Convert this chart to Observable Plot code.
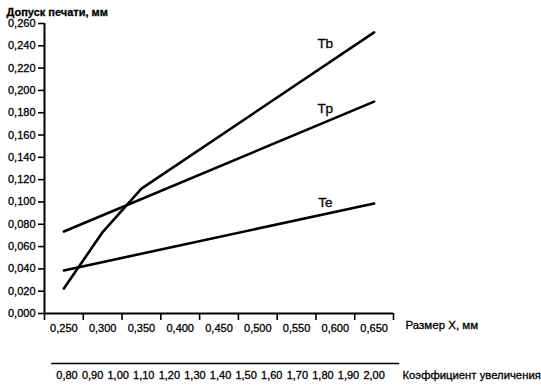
<!DOCTYPE html>
<html>
<head>
<meta charset="utf-8">
<script src="https://cdn.jsdelivr.net/npm/d3@7"></script>
<script src="https://cdn.jsdelivr.net/npm/@observablehq/plot@0.6"></script>
<style>
  html, body { margin: 0; padding: 0; background: #fff; }
  svg { display: block; }
  svg text { stroke: #000; stroke-width: 0.3px; }
</style>
</head>
<body>
<div id="chart"></div>
<script>
// X sizes (mm) — tick labels
const xLabels = [0.25, 0.30, 0.35, 0.40, 0.45, 0.50, 0.55, 0.60, 0.65];
// Y tick labels (mm)
const yTicks = [0, 0.02, 0.04, 0.06, 0.08, 0.10, 0.12, 0.14, 0.16, 0.18, 0.20, 0.22, 0.24, 0.26];
// Magnification factor tick labels
const kTicks = [0.80, 0.90, 1.00, 1.10, 1.20, 1.30, 1.40, 1.50, 1.60, 1.70, 1.80, 1.90, 2.00];

// Series
const tbX = [0.25, 0.30, 0.35, 0.65];
const tbY = [0.0224, 0.073, 0.112, 0.252];
const tpX = [0.25, 0.65];
const tpY = [0.0735, 0.190];
const teX = [0.25, 0.65];
const teY = [0.0386, 0.0986];

const seriesNames = ["Tb", "Tp", "Te"];
const labelX = [0.587, 0.587, 0.587];
const labelY = [0.2415, 0.184, 0.0998];

const rows = (xs, ys, name) => xs.map((x, i) => ({x, y: ys[i], name}));
const data = [...rows(tbX, tbY, "Tb"), ...rows(tpX, tpY, "Tp"), ...rows(teX, teY, "Te")];
const labels = seriesNames.map((n, i) => ({name: n, x: labelX[i], y: labelY[i]}));

// tick marks lie between the size labels (band edges)
const xEdges = xLabels.map(v => v - 0.025).concat([xLabels[xLabels.length - 1] + 0.025]);
// magnification factor placed along the size scale
const kToX = k => 0.33 * k - 0.01;

const fmt3 = v => d3.format(".3f")(v).replace(".", ",");
const fmt2 = v => d3.format(".2f")(v).replace(".", ",");

const font = "'Liberation Sans', Arial, sans-serif";

const plot = Plot.plot({
  width: 541,
  height: 386,
  marginLeft: 44,
  marginRight: 148,
  marginTop: 23,
  marginBottom: 73,
  style: {fontFamily: font, fontSize: "11px", color: "#000", background: "#fff"},
  x: {domain: [0.225, 0.675]},
  y: {domain: [0, 0.26]},
  marks: [
    Plot.axisY({ticks: yTicks, tickFormat: fmt3, tickSize: 6, tickPadding: 3, strokeWidth: 1.6, label: null, fontSize: 11}),
    Plot.axisX(xEdges, {tickSize: 7, tickFormat: () => "", strokeWidth: 1.6, label: null}),
    Plot.axisX({ticks: xLabels, tickFormat: fmt3, tickSize: 0, tickPadding: 11, label: null, fontSize: 11}),
    Plot.ruleX([0.225], {strokeWidth: 2}),
    Plot.ruleY([0], {strokeWidth: 2}),
    Plot.line(data, {x: "x", y: "y", z: "name", stroke: "#000", strokeWidth: 2.6}),
    Plot.text(labels, {x: "x", y: "y", text: "name", fontSize: 13.5, fill: "#000"}),
    Plot.text(["Допуск печати, мм"], {frameAnchor: "top-left", dx: -38, dy: -15, textAnchor: "start", fontWeight: "bold", fontSize: 11}),
    Plot.text(["Размер X, мм"], {frameAnchor: "bottom-right", dx: 12, dy: 15, textAnchor: "start", fontSize: 11.5}),
    Plot.ruleY([0], {x1: kToX(0.74), x2: kToX(2.1), dy: 50, strokeWidth: 1.6}),
    Plot.text(kTicks, {x: k => kToX(k), text: fmt2, frameAnchor: "bottom", dy: 65, fontSize: 11}),
    Plot.text(["Коэффициент увеличения"], {frameAnchor: "bottom-right", dx: 9, dy: 65, textAnchor: "start", fontSize: 11.3})
  ]
});
document.getElementById("chart").appendChild(plot);
</script>
</body>
</html>
